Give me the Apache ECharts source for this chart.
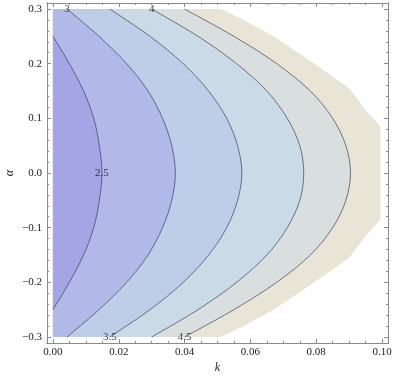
<!DOCTYPE html>
<html><head><meta charset="utf-8">
<script src="https://cdn.jsdelivr.net/npm/echarts@6/dist/echarts.min.js"></script>
<style>html,body{margin:0;padding:0;background:#fff}#c{width:400px;height:376px}</style>
</head><body><div id="c"></div>
<script>
// ---- data ----
const alphaLevels = [0.3, 0.25, 0.2, 0.15, 0.1, 0.05, 0, -0.05, -0.1, -0.15, -0.2, -0.25, -0.3];
const k25 = [null, 0, 0.0050, 0.0093, 0.0124, 0.0141, 0.0149, 0.0141, 0.0124, 0.0093, 0.0050, 0, null];
const k30 = [0.0043, 0.0140, 0.0224, 0.0289, 0.0333, 0.0361, 0.0372, 0.0361, 0.0333, 0.0289, 0.0224, 0.0140, 0.0043];
const k35 = [0.0173, 0.0295, 0.0396, 0.0473, 0.0528, 0.0561, 0.0574, 0.0561, 0.0528, 0.0473, 0.0396, 0.0295, 0.0173];
const k40 = [0.0300, 0.0441, 0.0558, 0.0650, 0.0712, 0.0750, 0.0762, 0.0750, 0.0712, 0.0650, 0.0558, 0.0441, 0.0300];
const k45 = [0.0400, 0.0550, 0.0680, 0.0782, 0.0850, 0.0890, 0.0904, 0.0890, 0.0850, 0.0782, 0.0680, 0.0550, 0.0400];
const boundaryAlpha = [0.3, 0.28, 0.25, 0.21, 0.155, 0.115, 0.085, 0, -0.085, -0.115, -0.155, -0.21, -0.25, -0.28, -0.3];
const boundaryK = [0.051, 0.058, 0.067, 0.077, 0.090, 0.095, 0.0995, 0.0995, 0.0995, 0.095, 0.090, 0.077, 0.067, 0.058, 0.051];
const contourLevels = ['2.5', '3', '3.5', '4', '4.5'];
const labelAtIndex = [6, 0, 12, 0, 12];
const xTicks = [0, 0.02, 0.04, 0.06, 0.08, 0.10];
const yTicks = [-0.3, -0.2, -0.1, 0, 0.1, 0.2, 0.3];

// ---- styles ----
const X_MIN = -0.0018, X_MAX = 0.1018, Y_MIN = -0.311, Y_MAX = 0.311;
const bandColors = ['#E8E4D6', '#D9DEDF', '#CADAE6', '#BECEE8', '#B2B8E7', '#A5A4E4'];
const frameColor = '#8a8a8a';
const serif = '"Liberation Serif","DejaVu Serif",serif';

function pairs(ks, as) {
  const out = [];
  for (let i = 0; i < ks.length; i++) if (ks[i] !== null) out.push([ks[i], as[i]]);
  return out;
}
const contourK = [k25, k30, k35, k40, k45];
const contours = contourK.map(ks => pairs(ks, alphaLevels));
const boundary = pairs(boundaryK, boundaryAlpha);
// fill order: outermost first
const fillCurves = [boundary, contours[4], contours[3], contours[2], contours[1], contours[0]];
const fillSmooth = [false, true, true, true, true, true];

function seg(pts, smooth) {
  let d = 'L' + pts[0][0] + ' ' + pts[0][1];
  if (!smooth) {
    for (let i = 1; i < pts.length; i++) d += 'L' + pts[i][0] + ' ' + pts[i][1];
    return d;
  }
  for (let i = 0; i < pts.length - 1; i++) {
    const p0 = pts[Math.max(i - 1, 0)], p1 = pts[i], p2 = pts[i + 1], p3 = pts[Math.min(i + 2, pts.length - 1)];
    const c1x = p1[0] + (p2[0] - p0[0]) / 6, c1y = p1[1] + (p2[1] - p0[1]) / 6;
    const c2x = p2[0] - (p3[0] - p1[0]) / 6, c2y = p2[1] - (p3[1] - p1[1]) / 6;
    d += 'C' + c1x + ' ' + c1y + ' ' + c2x + ' ' + c2y + ' ' + p2[0] + ' ' + p2[1];
  }
  return d;
}

function xAx(pos, ticks, len, labels) {
  return {
    type: 'value', position: pos, min: X_MIN, max: X_MAX,
    name: labels ? 'k' : '', nameLocation: 'middle', nameGap: 19, nameMoveOverlap: false,
    nameTextStyle: { fontFamily: serif, fontStyle: 'italic', fontSize: 12, color: '#222' },
    axisLine: { show: true, onZero: false, lineStyle: { color: frameColor, width: 1 } },
    axisTick: { show: true, inside: true, length: len, customValues: ticks, lineStyle: { color: frameColor, width: 1 } },
    axisLabel: labels ? { show: true, customValues: ticks, formatter: v => v.toFixed(2), fontFamily: serif, fontSize: 11, color: '#1a1a1a', margin: 4 } : { show: false },
    splitLine: { show: false }
  };
}
function yAx(pos, ticks, len, labels) {
  return {
    type: 'value', position: pos, min: Y_MIN, max: Y_MAX,
    name: labels ? 'α' : '', nameLocation: 'middle', nameGap: 31, nameRotate: 90, nameMoveOverlap: false,
    nameTextStyle: { fontFamily: serif, fontStyle: 'italic', fontSize: 12, color: '#222' },
    axisLine: { show: true, onZero: false, lineStyle: { color: frameColor, width: 1 } },
    axisTick: { show: true, inside: true, length: len, customValues: ticks, lineStyle: { color: frameColor, width: 1 } },
    axisLabel: labels ? { show: true, customValues: ticks, formatter: v => { const s = Math.abs(v).toFixed(1); return v < -1e-9 ? '\u2212' + s : s; }, fontFamily: serif, fontSize: 11, color: '#1a1a1a', margin: 5 } : { show: false },
    splitLine: { show: false }
  };
}
const xMinor = [], yMinor = [];
for (let i = 0; i <= 20; i++) xMinor.push(+(i * 0.005).toFixed(4));
for (let i = -15; i <= 15; i++) yMinor.push(+(i * 0.02).toFixed(4));

const chart = echarts.init(document.getElementById('c'), null, { renderer: 'canvas' });
chart.setOption({
  animation: false,
  backgroundColor: '#fff',
  grid: { left: 47, top: 3, width: 341, height: 340, containLabel: false, outerBoundsMode: 'none' },
  xAxis: [xAx('bottom', xTicks, 4, true), xAx('bottom', xMinor, 2, false), xAx('top', xTicks, 4, false), xAx('top', xMinor, 2, false)],
  yAxis: [yAx('left', yTicks, 4, true), yAx('left', yMinor, 2, false), yAx('right', yTicks, 4, false), yAx('right', yMinor, 2, false)],
  series: [
    {
      type: 'custom', xAxisIndex: 0, yAxisIndex: 0, z: 1,
      data: fillCurves.map((c, i) => [0, 0, i]),
      renderItem: (params, api) => {
        const i = params.dataIndex;
        const curve = fillCurves[i];
        const pts = curve.map(p => api.coord(p));
        const top = api.coord([0, curve[0][1]]);
        const bot = api.coord([0, curve[curve.length - 1][1]]);
        const d = 'M' + top[0] + ' ' + top[1] + seg(pts, fillSmooth[i]) + 'L' + bot[0] + ' ' + bot[1] + 'Z';
        return { type: 'path', shape: { pathData: d }, style: { fill: bandColors[i], stroke: null } };
      }
    },
    {
      type: 'custom', xAxisIndex: 0, yAxisIndex: 0, z: 2,
      data: contours.map((c, i) => [0, 0, i]),
      renderItem: (params, api) => {
        const pts = contours[params.dataIndex].map(p => api.coord(p));
        const d = 'M' + pts[0][0] + ' ' + pts[0][1] + seg(pts, true);
        return { type: 'path', shape: { pathData: d }, style: { fill: null, stroke: 'rgba(45,50,70,0.7)', lineWidth: 0.9 } };
      }
    },
    {
      type: 'scatter', xAxisIndex: 0, yAxisIndex: 0, z: 3,
      symbolSize: 1, itemStyle: { color: 'rgba(0,0,0,0)' },
      data: contourK.map((ks, i) => [ks[labelAtIndex[i]], alphaLevels[labelAtIndex[i]], contourLevels[i]]),
      label: { show: true, position: 'inside', formatter: p => p.value[2], fontFamily: serif, fontSize: 11, color: '#111' }
    }
  ]
});
</script></body></html>
